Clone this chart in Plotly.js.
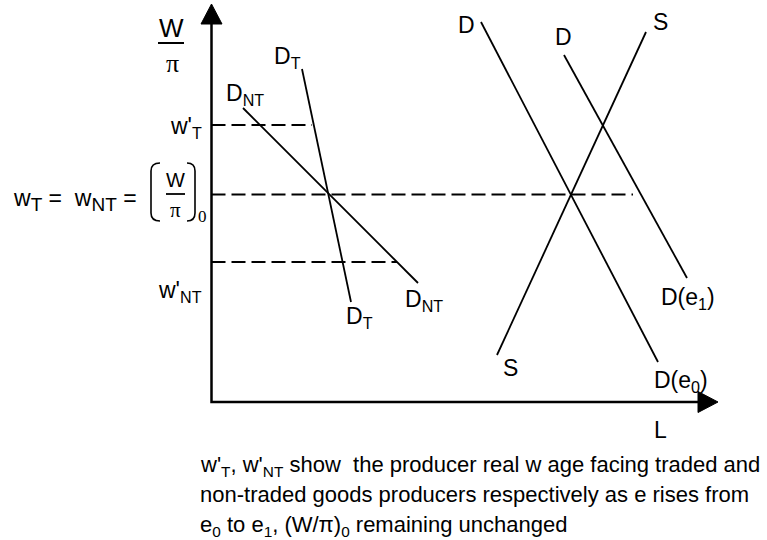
<!DOCTYPE html>
<html><head><meta charset="utf-8">
<script src="https://cdn.plot.ly/plotly-3.0.1.min.js"></script>
<style>html,body{margin:0;padding:0;background:#fff}</style>
</head><body><div id="chart" style="width:767px;height:540px"></div>
<script>
// Curve endpoints: x = labour L, y = real wage W/π (chart units, origin at axis corner)
const dT_L  = [9.05, 13.95];  const dT_W  = [33.3, 10.0];
const dNT_L = [3.15, 20.65];  const dNT_W = [29.4, 11.9];
const dE0_L = [26.95, 44.65]; const dE0_W = [38.0, 4.0];
const dE1_L = [35.25, 47.55]; const dE1_W = [34.7, 12.4];
const s_L   = [43.45, 28.55]; const s_W   = [37.0, 4.7];
// Wage levels (dashed guides)
const wageNames  = ["w'T", "(W/π)0", "w'NT"];
const wageLevels = [27.7, 20.75, 14.0];
const wageEnds   = [10.05, 42.15, 18.55];
// Axis extents
const axisLMax = 50.65, axisWMax = 39.8;

// layout geometry: 1 unit = 10 px, origin at pixel (211.5, 402)
const W = 767, H = 540, OX = 211.5, OY = 402, U = 10;
const xr = [-OX / U, (W - OX) / U];
const yr = [(OY - H) / U, OY / U];
const px = p => (p - OX) / U;
const py = p => (OY - p) / U;

const black = '#000';
const lw = 1.8;
const traces = [];
function line(xs, ys, extra) {
  traces.push(Object.assign({type: 'scatter', mode: 'lines', x: xs, y: ys,
    line: {color: black, width: lw}, hoverinfo: 'skip', showlegend: false}, extra || {}));
}
// dashed guides
wageLevels.forEach((w, i) => {
  line([0, wageEnds[i]], [w, w], {line: {color: black, width: lw, dash: '14px,6px'}, name: wageNames[i]});
});
line(dT_L, dT_W, {name: 'D_T'});
line(dNT_L, dNT_W, {name: 'D_NT'});
line(dE0_L, dE0_W, {name: 'D(e0)'});
line(dE1_L, dE1_W, {name: 'D(e1)'});
line(s_L, s_W, {name: 'S'});
// axes
const head = 2.0, half = 1.05;
line([0, 0, axisLMax - head], [axisWMax - head, 0, 0], {line: {color: black, width: 2.5}});
traces.push({type: 'scatter', mode: 'lines', fill: 'toself', fillcolor: black,
  x: [-half, half, 0, -half], y: [axisWMax - head, axisWMax - head, axisWMax, axisWMax - head],
  line: {color: black, width: 1}, hoverinfo: 'skip', showlegend: false});
traces.push({type: 'scatter', mode: 'lines', fill: 'toself', fillcolor: black,
  x: [axisLMax - head, axisLMax - head, axisLMax, axisLMax - head], y: [-half, half, 0, -half],
  line: {color: black, width: 1}, hoverinfo: 'skip', showlegend: false});

const F = 'Liberation Sans, Arial, sans-serif';
const SERIF = 'Liberation Serif, Times New Roman, serif';
const LS = 23;
function ann(text, x, y, opt) {
  return Object.assign({text: text, x: px(x), y: py(y), xref: 'x', yref: 'y', showarrow: false,
    xanchor: 'center', yanchor: 'middle', font: {family: F, size: LS, color: black}}, opt || {});
}
const bigSub = t => '<sub><span style="font-size:19px">' + t + '</span></sub>';
const annotations = [
  ann('W', 171, 28, {font: {family: F, size: 26, color: black}}),
  ann('π', 172, 63, {font: {family: SERIF, size: 26, color: black}}),
  ann('D<sub>T</sub>', 287, 57),
  ann('D<sub>NT</sub>', 245, 94),
  ann("w'<sub>T</sub>", 204, 127, {xanchor: 'right'}),
  ann('w' + bigSub('T') + ' =  w' + bigSub('NT') + ' =', 139, 200, {xanchor: 'right', font: {family: F, size: 23, color: black}}),
  ann('W', 175, 180, {font: {family: F, size: 20, color: black}}),
  ann('π', 175, 210, {font: {family: SERIF, size: 21, color: black}}),
  ann('0', 202, 216, {font: {family: SERIF, size: 17, color: black}}),
  ann("w'<sub>NT</sub>", 204, 291, {xanchor: 'right'}),
  ann('D<sub>T</sub>', 359, 317),
  ann('D<sub>NT</sub>', 424, 300),
  ann('D', 466, 25),
  ann('D', 563, 37),
  ann('S', 660, 22),
  ann('S', 510, 368),
  ann('D(e<sub>1</sub>)', 688, 298),
  ann('D(e<sub>0</sub>)', 681, 381),
  ann('L', 660, 430),
  ann("w'<sub>T</sub>, w'<sub>NT</sub> show  the producer real w age facing traded and", 198, 466,
      {xanchor: 'left', font: {family: F, size: 22, color: black}}),
  ann('non-traded goods producers respectively as e rises from', 198, 494,
      {xanchor: 'left', font: {family: F, size: 22, color: black}}),
  ann('e<sub>0</sub> to e<sub>1</sub>, (W/π)<sub>0</sub> remaining unchanged', 198, 526,
      {xanchor: 'left', font: {family: F, size: 22, color: black}})
];

function seg(x0, y0, x1, y1, w) {
  return {type: 'line', xref: 'x', yref: 'y', x0: px(x0), y0: py(y0), x1: px(x1), y1: py(y1),
    line: {color: black, width: w || 1.8}};
}
function pathPx(pts) {
  return pts.map(p => p[0] + ' ' + p.slice(1).map((v, k) => k % 2 === 0 ? px(v) : py(v)).join(',')).join(' ');
}
const shapes = [
  seg(158, 43, 184, 43, 2),
  seg(166, 194, 185, 194, 1.8),
  {type: 'path', xref: 'x', yref: 'y', line: {color: black, width: 1.6},
   path: pathPx([['M', 160, 163], ['Q', 151, 163, 151, 171], ['L', 151, 213], ['Q', 151, 221, 160, 221]])},
  {type: 'path', xref: 'x', yref: 'y', line: {color: black, width: 1.6},
   path: pathPx([['M', 187, 163], ['Q', 195, 163, 195, 171], ['L', 195, 213], ['Q', 195, 221, 187, 221]])}
];

const layout = {
  width: W, height: H, margin: {l: 0, r: 0, t: 0, b: 0},
  paper_bgcolor: '#fff', plot_bgcolor: '#fff',
  font: {family: F, size: LS, color: black},
  xaxis: {range: xr, visible: false, fixedrange: true},
  yaxis: {range: yr, visible: false, fixedrange: true},
  annotations: annotations, shapes: shapes, showlegend: false
};
Plotly.newPlot('chart', traces, layout, {displayModeBar: false});
</script></body></html>
